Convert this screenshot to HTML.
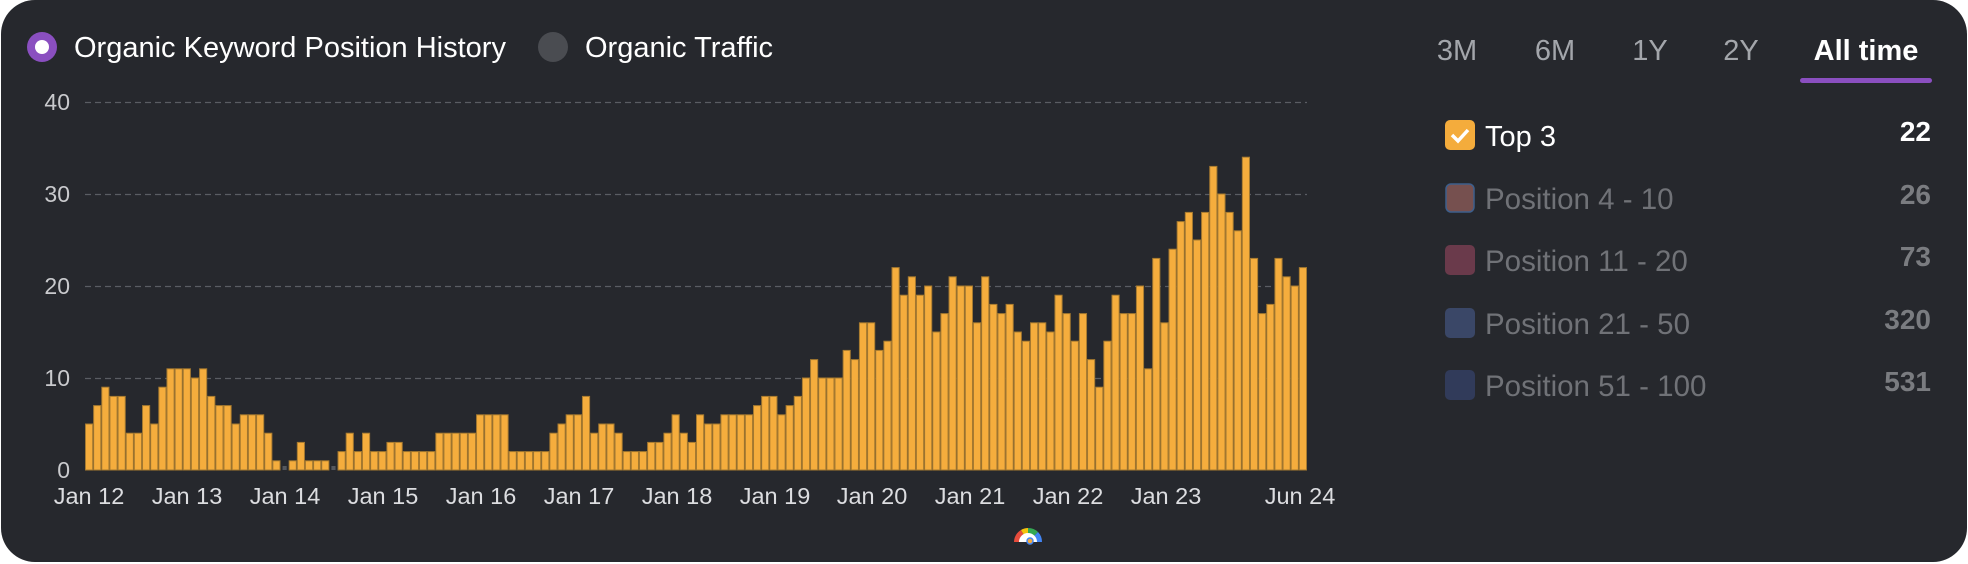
<!DOCTYPE html>
<html><head><meta charset="utf-8"><style>
html,body{margin:0;padding:0;background:#fff;width:1968px;height:564px;overflow:hidden}
.card{position:absolute;left:1px;top:0;width:1966px;height:562px;background:#26282d;border-radius:34px}
svg{position:absolute;left:0;top:0}
text{font-family:"Liberation Sans",sans-serif}
</style></head><body>
<div class="card"></div>
<svg width="1968" height="564" xmlns="http://www.w3.org/2000/svg">
<circle cx="42" cy="47" r="15" fill="#8a4fc0"/><circle cx="42" cy="47" r="7" fill="#fff"/>
<text x="74" y="57" font-size="29" fill="#fff">Organic Keyword Position History</text>
<circle cx="553" cy="47" r="15" fill="#4a4c51"/>
<text x="585" y="57" font-size="29" fill="#fff">Organic Traffic</text>
<g stroke="#5a5d63" stroke-width="1.2" stroke-dasharray="6,4">
<line x1="85" y1="102.5" x2="1307" y2="102.5"/>
<line x1="85" y1="194.5" x2="1307" y2="194.5"/>
<line x1="85" y1="286.5" x2="1307" y2="286.5"/>
<line x1="85" y1="378.5" x2="1307" y2="378.5"/>
</g>
<g font-size="23" fill="#c9cacd" text-anchor="end">
<text x="70" y="110">40</text><text x="70" y="202">30</text><text x="70" y="294">20</text><text x="70" y="386">10</text><text x="70" y="478">0</text>
</g>
<g id="bars"></g>
<g font-size="23.5" fill="#dcdde0" text-anchor="middle">
<text x="89" y="504">Jan 12</text><text x="187" y="504">Jan 13</text><text x="285" y="504">Jan 14</text><text x="383" y="504">Jan 15</text><text x="481" y="504">Jan 16</text><text x="579" y="504">Jan 17</text><text x="677" y="504">Jan 18</text><text x="775" y="504">Jan 19</text><text x="872" y="504">Jan 20</text><text x="970" y="504">Jan 21</text><text x="1068" y="504">Jan 22</text><text x="1166" y="504">Jan 23</text><text x="1300" y="504">Jun 24</text>
</g>
<g transform="translate(1028,542)">
<path d="M-14,0 A14,14 0 0 1 -7,-12 L0,0Z" fill="#e74c3c"/>
<path d="M-7,-12 A14,14 0 0 1 0,-14 L0,0Z" fill="#f4c20d"/>
<path d="M0,-14 A14,14 0 0 1 10,-10 L0,0Z" fill="#34a853"/>
<path d="M10,-10 A14,14 0 0 1 14,0 L0,0Z" fill="#4285f4"/>
<path d="M-9,0 A9,9 0 0 1 9,0Z" fill="#fff"/>
<circle cx="2" cy="-1" r="3" fill="#f4a93b" stroke="#4285f4" stroke-width="1.5"/>
</g>
<g font-size="29" fill="#a3a6ab" text-anchor="middle">
<text x="1457" y="60">3M</text><text x="1555" y="60">6M</text><text x="1650" y="60">1Y</text><text x="1741" y="60">2Y</text>
<text x="1866" y="60" fill="#fff" font-weight="bold">All time</text>
</g>
<rect x="1800" y="78" width="132" height="5" rx="2.5" fill="#8a4fc0"/>
<rect x="1445" y="120" width="30" height="30" rx="5" fill="#f4ac3c"/>
<path d="M1452,135 l6,6 l10,-11" stroke="#fff" stroke-width="3.5" fill="none"/>
<text x="1485" y="146" font-size="29" fill="#fff">Top 3</text>
<text x="1931" y="141" font-size="28" fill="#fff" font-weight="bold" text-anchor="end">22</text>
<rect x="1446" y="184" width="28" height="28" rx="5" fill="#76504f" stroke="#3d5f8c" stroke-width="1.5"/>
<text x="1485" y="209" font-size="29.5" fill="#707277">Position 4 - 10</text>
<text x="1931" y="204" font-size="28" fill="#7a7c80" font-weight="bold" text-anchor="end">26</text>
<rect x="1445" y="245" width="30" height="30" rx="5" fill="#6a3a4b"/>
<text x="1485" y="271" font-size="29.5" fill="#707277">Position 11 - 20</text>
<text x="1931" y="266" font-size="28" fill="#7a7c80" font-weight="bold" text-anchor="end">73</text>
<rect x="1445" y="308" width="30" height="30" rx="5" fill="#3a4767"/>
<text x="1485" y="334" font-size="29.5" fill="#707277">Position 21 - 50</text>
<text x="1931" y="329" font-size="28" fill="#7a7c80" font-weight="bold" text-anchor="end">320</text>
<rect x="1445" y="370" width="30" height="30" rx="5" fill="#313b5a"/>
<text x="1485" y="396" font-size="29.5" fill="#707277">Position 51 - 100</text>
<text x="1931" y="391" font-size="28" fill="#7a7c80" font-weight="bold" text-anchor="end">531</text>
</svg>
<script>
var d=[5,7,9,8,8,4,4,7,5,9,11,11,11,10,11,8,7,7,5,6,6,6,4,1,0,1,3,1,1,1,0,2,4,2,4,2,2,3,3,2,2,2,2,4,4,4,4,4,6,6,6,6,2,2,2,2,2,4,5,6,6,8,4,5,5,4,2,2,2,3,3,4,6,4,3,6,5,5,6,6,6,6,7,8,8,6,7,8,10,12,10,10,10,13,12,16,16,13,14,22,19,21,19,20,15,17,21,20,20,16,21,18,17,18,15,14,16,16,15,19,17,14,17,12,9,14,19,17,17,20,11,23,16,24,27,28,25,28,33,30,28,26,34,23,17,18,23,21,20,22];
var g=document.getElementById('bars'),w=1222/150,s='';
for(var i=0;i<d.length;i++){var x=85+i*w;
 if(d[i]==0){s+='<rect x="'+(x+2)+'" y="466" width="'+(w-4)+'" height="4" fill="#55585e"/>';continue;}
 var h=d[i]*9.2;s+='<rect x="'+(x+0.5)+'" y="'+(470-h)+'" width="'+(w-1)+'" height="'+h+'" fill="#f5ad3d" stroke="#a67a30" stroke-width="1"/>';}
g.innerHTML=s;
</script>
</body></html>
